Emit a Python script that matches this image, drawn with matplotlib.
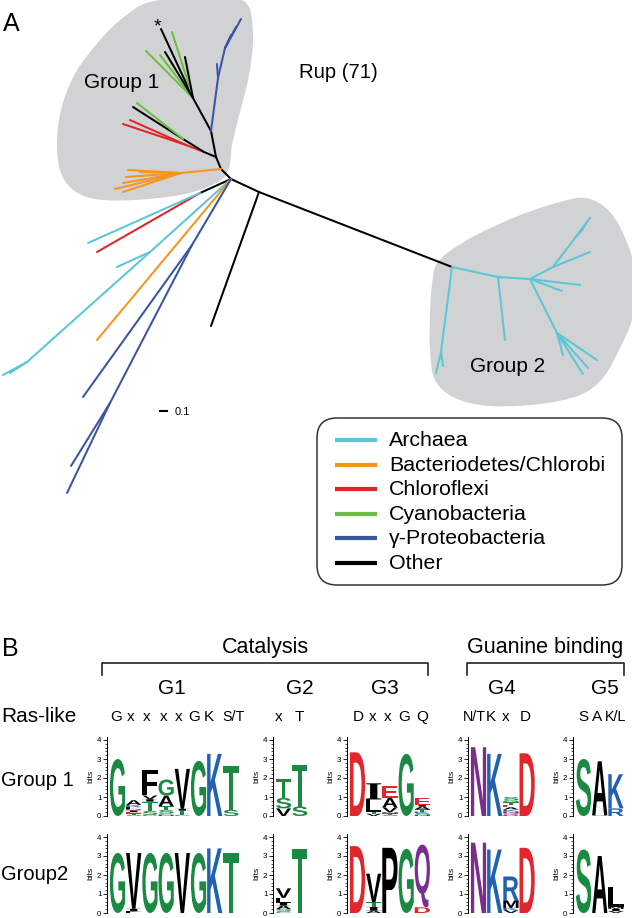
import numpy as np
import matplotlib
matplotlib.use('Agg')
import matplotlib.pyplot as plt
from matplotlib.path import Path
from matplotlib.patches import PathPatch, FancyBboxPatch
from matplotlib.collections import LineCollection
from matplotlib.textpath import TextPath
from matplotlib.font_manager import FontProperties
from matplotlib.transforms import Affine2D
from matplotlib.ticker import MultipleLocator

plt.rcParams['font.family'] = ['Liberation Sans', 'DejaVu Sans']

W, H = 632, 918

# ---------------- tree data (panel A) ----------------
clades = ['Archaea', 'Bacteriodetes/Chlorobi', 'Chloroflexi',
          'Cyanobacteria', 'γ-Proteobacteria', 'Other']
clade_colors = ['#5bc6d6', '#f7941d', '#e2232a', '#6cbd45', '#3a54a4', '#000000']

node_name = ['R', 'J1', 'C0', 'O1', 'M', 'Nb', 'Ng', 'Of', 'K1', 'Rn', 'Kb',
             'Bn1', 'Bn2', 'K2', 'Cn', 'Cn2', 'Bl', 'Bl2', 'C1', 'C2', 'C3',
             'C3b', 'C4', 'Dn',
             'bd', 'o1', 'o2', 'o3', 'o4', 'o5', 'o6', 'r1', 'r2', 'kb1', 'g1',
             'b1', 'b2', 'b3', 'b4', 'k1', 'g2', 'g3', 'g4', 'k2', 'k3',
             'lr', 'lc1', 'lc2', 'lc3', 'lc4', 'lo', 'lb1', 'lb2', 'lb3',
             'a1', 'a2', 'a3', 'a4', 'a5', 'a6', 'a7', 'a8', 'a9',
             'a10', 'a11', 'a12', 'a13']
node_x = [231, 259, 452, 221, 216, 211, 193, 181, 204, 186, 183,
          218, 225, 200, 150, 27, 192, 110, 498, 530, 553,
          575, 557, 441,
          211, 128, 126, 123, 115, 123, 140, 123, 130, 133, 137,
          217, 241, 236, 231, 161, 172, 146, 160, 165, 185,
          97, 88, 117, 3, 10, 97, 83, 71, 67,
          436, 443, 505, 590, 590, 586, 583, 580, 562,
          563, 597, 583, 588]
node_y = [179, 192, 267, 169, 157, 131, 98, 173, 152, 145, 139,
          78, 48, 193, 252, 362, 245, 403, 277, 279, 267,
          238, 333, 352,
          326, 170, 177, 183, 189, 192, 172, 124, 120, 107, 103,
          64, 19, 27, 35, 29, 32, 51, 55, 52, 57,
          252, 243, 267, 375, 373, 340, 397, 466, 493,
          373, 366, 340, 252, 218, 224, 229, 285, 291,
          355, 360, 374, 368]

edge_parent = ['R', 'J1', 'J1', 'R', 'O1', 'M', 'Nb',
               'O1', 'Of', 'Of', 'Of', 'Of', 'Of', 'Of',
               'M', 'K1', 'Rn', 'Rn', 'K1', 'Kb', 'Kb',
               'Nb', 'Bn1', 'Bn1', 'Bn2', 'Bn2', 'Bn2',
               'Ng', 'Ng', 'Ng', 'Ng', 'Ng', 'Ng',
               'R', 'K2', 'K2',
               'R', 'Cn', 'Cn', 'Cn2', 'Cn2',
               'R', 'R', 'Bl', 'Bl', 'Bl2', 'Bl2',
               'C0', 'Dn', 'Dn', 'C0', 'C1', 'C1', 'C2', 'C3', 'C3',
               'C3b', 'C3b', 'C3b', 'C2', 'C2', 'C2', 'C4', 'C4', 'C4', 'C4']
edge_child = ['J1', 'C0', 'bd', 'O1', 'M', 'Nb', 'Ng',
              'Of', 'o1', 'o2', 'o3', 'o4', 'o5', 'o6',
              'K1', 'Rn', 'r1', 'r2', 'Kb', 'kb1', 'g1',
              'Bn1', 'b1', 'Bn2', 'b2', 'b3', 'b4',
              'k1', 'g2', 'g3', 'g4', 'k2', 'k3',
              'K2', 'lr', 'lc1',
              'Cn', 'lc2', 'Cn2', 'lc3', 'lc4',
              'lo', 'Bl', 'lb1', 'Bl2', 'lb2', 'lb3',
              'Dn', 'a1', 'a2', 'C1', 'a3', 'C2', 'C3', 'a4', 'C3b',
              'a5', 'a6', 'a7', 'a8', 'a9', 'C4', 'a10', 'a11', 'a12', 'a13']
edge_clade = (['Other'] * 7 + ['Bacteriodetes/Chlorobi'] * 7 +
              ['Other', 'Chloroflexi', 'Chloroflexi', 'Chloroflexi', 'Other', 'Other', 'Cyanobacteria'] +
              ['γ-Proteobacteria'] * 6 +
              ['Other', 'Cyanobacteria', 'Cyanobacteria', 'Cyanobacteria', 'Other', 'Other'] +
              ['Other', 'Chloroflexi', 'Archaea'] +
              ['Archaea'] * 5 +
              ['Bacteriodetes/Chlorobi'] + ['γ-Proteobacteria'] * 5 +
              ['Archaea'] * 19)

group1_outline_x = [150, 205, 245, 253, 249, 240, 232, 229, 218, 185, 135, 95, 72, 60, 57, 62, 76, 100, 124]
group1_outline_y = [2, -4, 2, 35, 75, 112, 145, 168, 182, 194, 200, 199, 189, 170, 140, 106, 72, 40, 17]
group2_outline_x = [438, 467, 513, 553, 585, 610, 628, 638, 632, 620, 603, 580, 540, 490, 455, 435, 430, 430, 432]
group2_outline_y = [262, 240, 218, 204, 198, 212, 245, 285, 320, 348, 378, 395, 404, 406, 398, 380, 350, 315, 285]

# ---------------- logo data (panel B) ----------------
motif_names = ['G1', 'G2', 'G3', 'G4', 'G5']
motif_label_x = [172, 300, 385, 502, 605]
motif_spine_x = [107, 273, 347, 468, 573]
ras_like = [['G', 'x', 'x', 'x', 'x', 'G', 'K', 'S/T'], ['x', 'T'],
            ['D', 'x', 'x', 'G', 'Q'], ['N/T', 'K', 'x', 'D'], ['S', 'A', 'K/L']]
ras_like_x = [[116, 131, 147, 164, 179, 194, 209, 233], [279, 299],
              [358, 373, 388, 404, 422], [474, 491, 506, 525], [583, 597, 616]]

# stacks listed bottom -> top as (residue, bits)
group1_G1 = [[('G', 3.0)],
             [('S', .06), ('T', .06), ('E', .08), ('I', .1), ('D', .08), ('L', .08), ('R', .06), ('K', .06), ('A', .25)],
             [('C', .06), ('S', .2), ('T', .5), ('I', .12), ('V', .2), ('F', 1.35)],
             [('N', .06), ('C', .08), ('S', .18), ('T', .2), ('A', .55), ('G', .85)],
             [('C', .06), ('T', .22), ('I', .1), ('V', 2.1)],
             [('G', 2.9)], [('K', 3.27)], [('S', .32), ('T', 2.33)]]
group1_G2 = [[('V', .4), ('S', .55), ('T', 1.0)], [('S', .5), ('T', 2.2)]]
group1_G3 = [[('D', 3.35)],
             [('V', .12), ('T', .1), ('L', .65), ('I', .85)],
             [('S', .06), ('T', .08), ('N', .06), ('V', .25), ('A', .5), ('E', .65)],
             [('G', 3.27)],
             [('N', .07), ('S', .08), ('K', .08), ('T', .12), ('A', .15), ('I', .1), ('E', .35)]]
group1_G4 = [[('N', 3.62)], [('K', 3.27)],
             [('D', .06), ('Q', .08), ('N', .1), ('K', .1), ('A', .12), ('E', .12), ('T', .15), ('G', .1), ('S', .17)],
             [('D', 3.3)]]
group1_G5 = [[('S', 3.0)], [('G', .04), ('A', 2.84)], [('R', .4), ('K', 1.8)]]

group2_G1 = [[('G', 3.16)], [('L', .08), ('I', .14), ('V', 2.94)], [('G', 3.16)], [('G', 3.16)],
             [('V', 3.16)], [('G', 3.16)], [('K', 3.4)], [('T', 3.16)]]
group2_G2 = [[('C', .08), ('S', .12), ('A', .2), ('I', .15), ('L', .25), ('V', .5)], [('T', 3.37)]]
group2_G3 = [[('D', 3.52)], [('A', .12), ('I', .2), ('T', .25), ('V', 1.5)], [('P', 3.43)],
             [('G', 3.38)], [('D', .3), ('Q', 3.3)]]
group2_G4 = [[('N', 3.7)], [('K', 3.34)], [('V', .15), ('K', .12), ('M', .4), ('R', 1.25)], [('D', 3.43)]]
group2_G5 = [[('S', 3.34)], [('A', 3.0)], [('V', .1), ('I', .12), ('M', .1), ('L', 1.05)]]

group1_logos = [group1_G1, group1_G2, group1_G3, group1_G4, group1_G5]
group2_logos = [group2_G1, group2_G2, group2_G3, group2_G4, group2_G5]
row_labels = ['Group 1', 'Group2']

aa_color = {}
for a in 'GSTYC':
    aa_color[a] = '#1a8a43'
for a in 'NQ':
    aa_color[a] = '#7b2d8e'
for a in 'KRH':
    aa_color[a] = '#2162b0'
for a in 'DE':
    aa_color[a] = '#e2262b'
for a in 'PAWFLIMV':
    aa_color[a] = '#000000'

# ---------------- figure ----------------
fig = plt.figure(figsize=(W / 100, H / 100), dpi=100)
ax0 = fig.add_axes([0, 0, 1, 1])
ax0.set_xlim(0, W)
ax0.set_ylim(H, 0)
ax0.axis('off')


def smooth_closed(xs, ys):
    P = np.column_stack([xs, ys]).astype(float)
    n = len(P)
    verts = [P[0]]
    codes = [Path.MOVETO]
    for i in range(n):
        p0, p1, p2, p3 = P[i - 1], P[i], P[(i + 1) % n], P[(i + 2) % n]
        verts += [p1 + (p2 - p0) / 6, p2 - (p3 - p1) / 6, p2]
        codes += [Path.CURVE4] * 3
    return Path(verts, codes)


for ox, oy in [(group1_outline_x, group1_outline_y), (group2_outline_x, group2_outline_y)]:
    ax0.add_patch(PathPatch(smooth_closed(ox, oy), fc='#d1d2d4', ec='none', zorder=1))

pos = {n: (x, y) for n, x, y in zip(node_name, node_x, node_y)}
segs = [[pos[p], pos[c]] for p, c in zip(edge_parent, edge_child)]
cols = [clade_colors[clades.index(k)] for k in edge_clade]
ax0.add_collection(LineCollection(segs, colors=cols, linewidths=1.45,
                                  capstyle='round', zorder=3))

ax0.text(3, 24, 'A', fontsize=18, va='center', ha='left')
ax0.text(338, 72, 'Rup (71)', fontsize=14.6, va='center', ha='center')
ax0.text(122, 83, 'Group 1', fontsize=15, va='center', ha='center', zorder=4)
ax0.text(508, 367, 'Group 2', fontsize=15, va='center', ha='center', zorder=4)
ax0.text(157, 27, '*', fontsize=14, va='center', ha='center', zorder=4)

# scale bar
ax0.plot([160, 167], [411, 411], color='black', lw=1.5)
ax0.text(175, 412, '0.1', fontsize=8, va='center', ha='left')

# legend
ax0.add_patch(FancyBboxPatch((317, 418), 305, 167,
                             boxstyle='round,pad=0,rounding_size=20',
                             fc='white', ec='#333333', lw=1.1, zorder=2))
leg_y0, leg_dy = 440, 24.6
for i, (name, c) in enumerate(zip(clades, clade_colors)):
    y = leg_y0 + i * leg_dy
    ax0.plot([335, 377], [y, y], color=c, lw=3, solid_capstyle='butt', zorder=3)
    ax0.text(389, y + 0.5, name, fontsize=15.4, va='center', ha='left', zorder=3)

# panel B text
ax0.text(2, 649, 'B', fontsize=18, va='center', ha='left')
ax0.text(265, 647, 'Catalysis', fontsize=15.5, va='center', ha='center')
ax0.text(545, 647, 'Guanine binding', fontsize=15.5, va='center', ha='center')
for xs in [(102, 428), (467, 624)]:
    ax0.plot([xs[0], xs[0], xs[1], xs[1]], [675, 663, 663, 675], color='#222222', lw=1.2)
for name, x in zip(motif_names, motif_label_x):
    ax0.text(x, 689, name, fontsize=15, va='center', ha='center')
ax0.text(1, 716, 'Ras-like', fontsize=15, va='center', ha='left')

for labels, xs in zip(ras_like, ras_like_x):
    for lab, x in zip(labels, xs):
        ax0.text(x, 717, lab, fontsize=10.3 if '/' in lab else 11,
                 va='center', ha='center')

CW = 16.2   # px per logo column
BIT = 19.0  # px per bit
YMAX = 4.15
row_base = [816, 913]
row_label_y = [780, 875]

fp_sans = FontProperties(family='Liberation Sans', weight='bold')
fp_serif = FontProperties(family='Liberation Serif', weight='bold')


def draw_letter(ax, ch, x0, y0, w, h, color):
    fp = fp_serif if ch == 'I' else fp_sans
    tp = TextPath((0, 0), ch, size=1, prop=fp)
    ext = tp.get_extents()
    tr = (Affine2D().translate(-ext.x0, -ext.y0)
          .scale(w / ext.width, h / ext.height).translate(x0, y0))
    ax.add_patch(PathPatch(tr.transform_path(tp), fc=color, ec='none', lw=0))


for r, logos in enumerate([group1_logos, group2_logos]):
    ax0.text(1, row_label_y[r], row_labels[r], fontsize=14.5, va='center', ha='left')
    for m, stacks in enumerate(logos):
        n = len(stacks)
        s = motif_spine_x[m]
        ax = fig.add_axes([s / W, (H - row_base[r]) / H,
                           (n + 0.2) * CW / W, YMAX * BIT / H])
        ax.set_xlim(-0.15, n + 0.05)
        ax.set_ylim(0, YMAX)
        ax.patch.set_alpha(0)
        for sp in ['top', 'right', 'bottom']:
            ax.spines[sp].set_visible(False)
        ax.spines['left'].set_linewidth(0.7)
        ax.set_xticks([])
        ax.yaxis.set_major_locator(MultipleLocator(1))
        ax.yaxis.set_minor_locator(MultipleLocator(0.2))
        ax.tick_params(axis='y', which='major', length=3, width=0.6,
                       labelsize=5.8, pad=1)
        ax.tick_params(axis='y', which='minor', length=1.5, width=0.5)
        ax.set_ylabel('bits', fontsize=6, labelpad=1.5)
        for i, stack in enumerate(stacks):
            ybot = 0.0
            for res, hgt in stack:
                draw_letter(ax, res, i + 0.03, ybot, 0.94, hgt, aa_color[res])
                ybot += hgt

fig.savefig('out.png', dpi=100)
